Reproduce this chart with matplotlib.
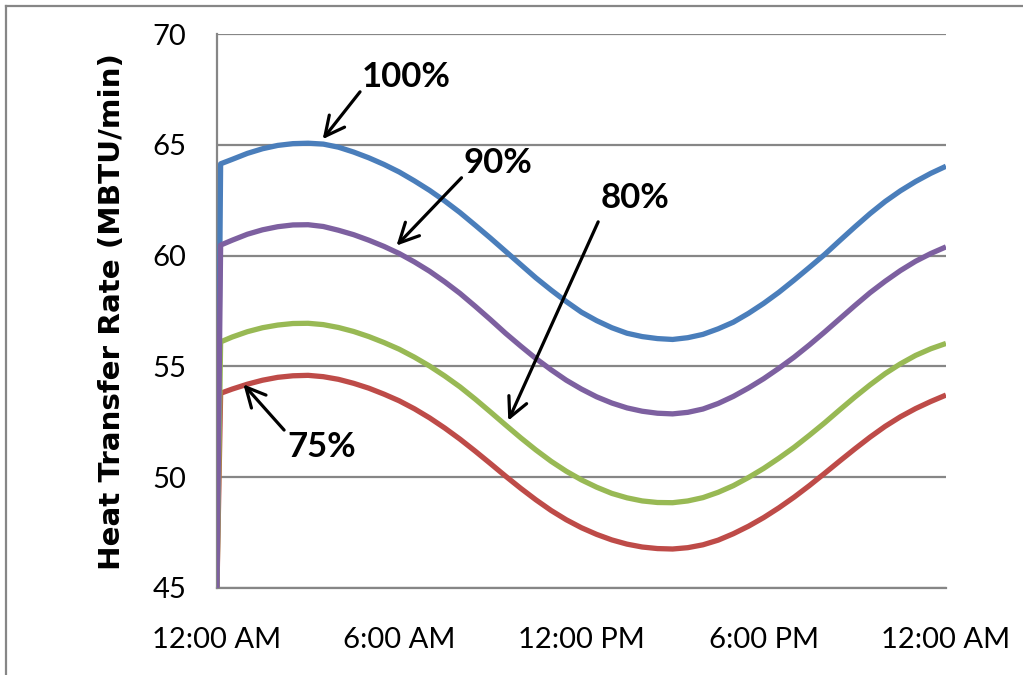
import numpy as np
import matplotlib
matplotlib.use("Agg")
import matplotlib.pyplot as plt
from matplotlib.lines import Line2D

# Time of day in hours (0 = 12:00 AM); 0.12 h marks the end of the start-up ramp
hours = [0, 0.12] + [h / 2 for h in range(1, 49)]

# Heat transfer rate (MBTU/min) at each load level, every half hour
rate_100 = [45, 64.15,
            64.35, 64.62, 64.83, 64.98, 65.06, 65.08, 65.04, 64.90, 64.68, 64.42,
            64.12, 63.78, 63.38, 62.95, 62.47, 61.95, 61.38, 60.80, 60.20, 59.60,
            59.00, 58.45, 57.93, 57.45, 57.07, 56.75, 56.50, 56.35, 56.26, 56.22,
            56.30, 56.45, 56.70, 57.00, 57.40, 57.85, 58.35, 58.90, 59.47, 60.05,
            60.68, 61.30, 61.90, 62.45, 62.93, 63.35, 63.72, 64.04]
rate_90 = [45, 60.48,
           60.70, 60.97, 61.17, 61.31, 61.39, 61.40, 61.32, 61.15, 60.95, 60.70,
           60.42, 60.10, 59.72, 59.30, 58.82, 58.30, 57.72, 57.12, 56.50, 55.92,
           55.36, 54.85, 54.38, 53.98, 53.63, 53.35, 53.13, 52.98, 52.89, 52.86,
           52.93, 53.08, 53.33, 53.65, 54.03, 54.45, 54.92, 55.42, 55.97, 56.55,
           57.15, 57.75, 58.33, 58.85, 59.33, 59.75, 60.10, 60.40]
rate_80 = [45, 56.11,
           56.33, 56.57, 56.75, 56.87, 56.94, 56.95, 56.89, 56.76, 56.58, 56.35,
           56.08, 55.78, 55.42, 55.02, 54.57, 54.08, 53.53, 52.95, 52.36, 51.78,
           51.23, 50.72, 50.27, 49.88, 49.55, 49.27, 49.07, 48.93, 48.86, 48.85,
           48.93, 49.08, 49.32, 49.62, 49.99, 50.40, 50.86, 51.35, 51.89, 52.45,
           53.04, 53.62, 54.17, 54.68, 55.12, 55.50, 55.80, 56.04]
rate_75 = [45, 53.79,
           53.98, 54.20, 54.38, 54.51, 54.58, 54.60, 54.54, 54.42, 54.24, 54.02,
           53.75, 53.45, 53.09, 52.68, 52.22, 51.72, 51.18, 50.62, 50.05, 49.50,
           48.98, 48.50, 48.08, 47.72, 47.42, 47.17, 46.98, 46.85, 46.78, 46.76,
           46.82, 46.95, 47.16, 47.45, 47.79, 48.18, 48.62, 49.10, 49.62, 50.17,
           50.73, 51.28, 51.81, 52.30, 52.73, 53.10, 53.42, 53.71]

x_ticks = [0, 6, 12, 18, 24]
x_tick_labels = ["12:00 AM", "6:00 AM", "12:00 PM", "6:00 PM", "12:00 AM"]
y_ticks = [45, 50, 55, 60, 65, 70]

GRID = "#868686"
colors = {"100%": "#4A7EBB", "90%": "#7D60A0", "80%": "#98B954", "75%": "#BE4B48"}
series = {"100%": rate_100, "90%": rate_90, "80%": rate_80, "75%": rate_75}

fig = plt.figure(figsize=(10.23, 6.75), dpi=100)
ax = fig.add_axes([0.2121, 0.1289, 0.7126, 0.8204])

# Outer chart frame (left and top edges)
fig.add_artist(Line2D([0.0059, 0.0059], [0, 0.9915], transform=fig.transFigure,
                      color=GRID, lw=1.6))
fig.add_artist(Line2D([0.0059, 1.0], [0.9915, 0.9915], transform=fig.transFigure,
                      color=GRID, lw=1.6))

x = np.array(hours, dtype=float)
for key in ["100%", "75%", "80%", "90%"]:
    ax.plot(x, series[key], color=colors[key], lw=3.8, solid_capstyle="butt",
            solid_joinstyle="round", zorder=3)

ax.set_xlim(0, 24)
ax.set_ylim(45, 70)
ax.set_xticks(x_ticks)
ax.set_xticklabels(x_tick_labels)
ax.set_yticks(y_ticks)

ax.grid(axis="y", color=GRID, lw=1.6, zorder=1)
ax.grid(axis="x", visible=False)
for side in ["top", "right"]:
    ax.spines[side].set_visible(False)
for side in ["left", "bottom"]:
    ax.spines[side].set_color(GRID)
    ax.spines[side].set_linewidth(1.6)

ax.tick_params(axis="both", length=0, labelsize=21, colors="black")
ax.tick_params(axis="y", pad=22)
ax.tick_params(axis="x", pad=28)
for lbl in ax.get_xticklabels() + ax.get_yticklabels():
    lbl.set_fontfamily("Lato")

ax.set_ylabel("Heat Transfer Rate (MBTU/min)", fontsize=21.2, fontweight="bold",
              fontfamily="DejaVu Sans", labelpad=19)


def curve_at(key, h):
    return float(np.interp(h, x, series[key]))


# Callouts: (label, hour at arrow tip, offset above curve, tail, text centre)
callouts = [
    ("100%", 3.48, 0.22, (4.71, 67.4), (6.22, 68.06)),
    ("90%", 5.91, 0.30, (8.05, 63.52), (9.25, 64.18)),
    ("80%", 9.59, 0.30, (12.55, 61.53), (13.75, 62.62)),
    ("75%", 0.87, 0.05, (2.21, 52.13), (3.46, 51.36)),
]
for label, h_tip, lift, tail, text_pos in callouts:
    tip = (h_tip, curve_at(label, h_tip) + lift)
    ax.annotate("", xy=tip, xytext=tail,
                arrowprops=dict(arrowstyle="->,head_length=0.7,head_width=0.35",
                                mutation_scale=20, color="black", lw=2.3,
                                shrinkA=0, shrinkB=0),
                zorder=5)
    ax.text(text_pos[0], text_pos[1], label, ha="center", va="center",
            fontsize=25, fontweight="bold", fontfamily="Lato", zorder=6)

fig.savefig("out.png", dpi=100)
